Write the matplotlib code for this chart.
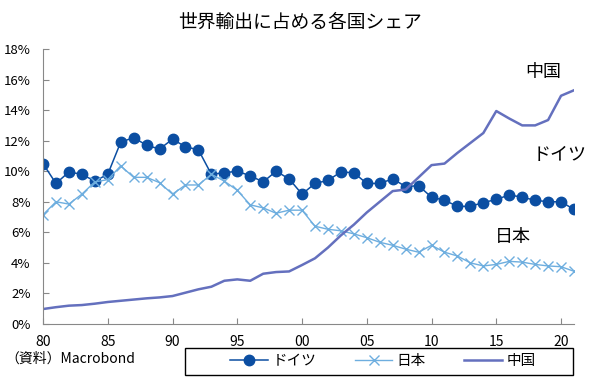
import matplotlib.pyplot as plt
import numpy as np
from matplotlib.patches import Rectangle
from matplotlib.ticker import FuncFormatter

plt.rcParams['font.family'] = ['Noto Sans CJK JP', 'DejaVu Sans']

years = np.arange(1980, 2022)

germany = [10.5, 9.2, 9.95, 9.8, 9.35, 9.8, 11.9, 12.2, 11.7, 11.45,
           12.1, 11.6, 11.4, 9.8, 9.9, 10.0, 9.7, 9.3, 10.0, 9.5,
           8.5, 9.2, 9.4, 9.95, 9.9, 9.2, 9.2, 9.5, 9.0, 9.05,
           8.3, 8.1, 7.7, 7.7, 7.95, 8.15, 8.45, 8.3, 8.1, 8.0,
           8.0, 7.5]

japan = [7.15, 8.0, 7.85, 8.5, 9.3, 9.45, 10.35, 9.6, 9.6, 9.25,
         8.5, 9.1, 9.1, 9.8, 9.35, 8.75, 7.8, 7.6, 7.25, 7.45,
         7.45, 6.4, 6.2, 6.1, 5.9, 5.65, 5.35, 5.15, 4.9, 4.7,
         5.15, 4.7, 4.45, 4.0, 3.8, 3.9, 4.1, 4.05, 3.9, 3.8,
         3.75, 3.45]

china = [0.98, 1.1, 1.2, 1.24, 1.33, 1.44, 1.52, 1.6, 1.68, 1.74,
         1.83, 2.05, 2.27, 2.44, 2.83, 2.92, 2.83, 3.29, 3.4, 3.44,
         3.86, 4.3, 5.0, 5.8, 6.5, 7.3, 8.0, 8.7, 8.8, 9.6,
         10.4, 10.5, 11.2, 11.85, 12.5, 13.94, 13.45, 13.0, 13.0, 13.35,
         14.94, 15.3]

labels = ["ドイツ", "日本", "中国"]

fig = plt.figure(figsize=(6, 3.8), dpi=100)
ax = fig.add_axes([43/600, 56/380, 531/600, 275/380])

ax.plot(years, germany, color="#0B4EA2", lw=1.1, marker="o", ms=7.5, label=labels[0])
ax.plot(years, japan, color="#6EAEDF", lw=1.0, marker="x", ms=7, mew=1.0, label=labels[1])
ax.plot(years, china, color="#6470BE", lw=1.8, label=labels[2])

ax.set_xlim(1980, 2021)
ax.set_ylim(0, 18)
ax.set_yticks(np.arange(0, 19, 2))
ax.yaxis.set_major_formatter(FuncFormatter(lambda v, p: f"{int(v)}%"))
ax.set_xticks(np.arange(1980, 2021, 5))
ax.xaxis.set_major_formatter(FuncFormatter(lambda v, p: f"{int(v) % 100:02d}"))

for s in ["top", "right"]:
    ax.spines[s].set_visible(False)
for s in ["left", "bottom"]:
    ax.spines[s].set_color("#888888")
ax.tick_params(direction="in", color="#888888", length=4, labelsize=9.5)
ax.tick_params(axis="y", pad=9)
ax.tick_params(axis="x", pad=8, labelsize=10)

ax.text(2018.6, 16.5, "中国", fontsize=13, ha="center", va="center")
ax.text(2019.9, 11.05, "ドイツ", fontsize=13, ha="center", va="center", clip_on=False)
ax.text(2016.3, 5.7, "日本", fontsize=13, ha="center", va="center")

fig.text(0.5, 1 - 22/380, "世界輸出に占める各国シェア", fontsize=13.5, ha="center", va="center")
fig.text(5/600, 1 - 359/380, "（資料）Macrobond", fontsize=10, ha="left", va="center")

fig.patches.append(Rectangle((185/600, 1 - 375/380), 388/600, 27/380,
                             transform=fig.transFigure, fill=False,
                             edgecolor="black", lw=1.0))
fig.legend(loc="center", bbox_to_anchor=(383/600, 1 - 361.5/380), ncol=3,
           frameon=False, fontsize=10.5, handlelength=2.6,
           columnspacing=2.6, handletextpad=0.3)

plt.savefig("out.png")
